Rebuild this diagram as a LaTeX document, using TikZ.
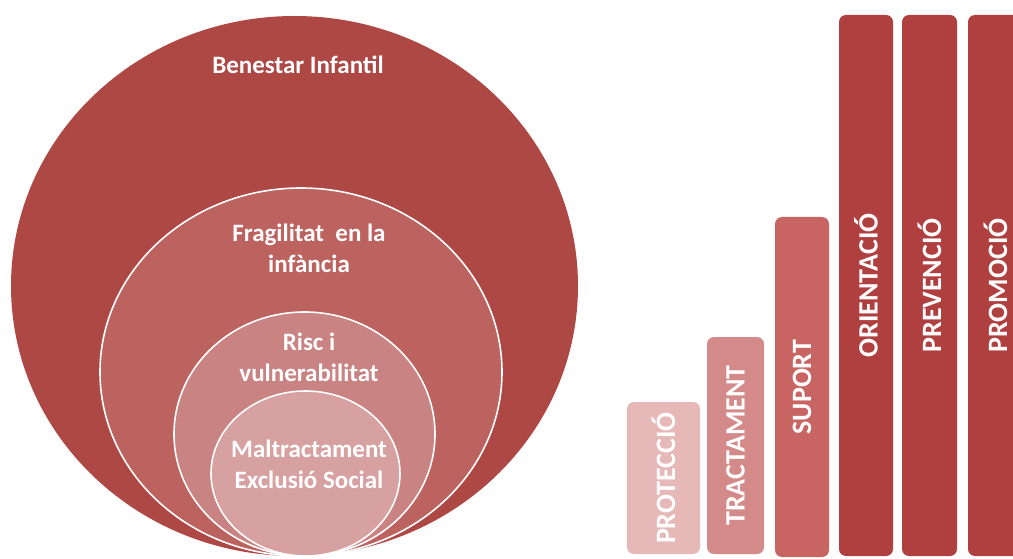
\documentclass[tikz,border=0pt]{standalone}
\usepackage{fontspec}
\setmainfont{Carlito}
\usetikzlibrary{shapes.geometric}
\definecolor{cOuter}{HTML}{AD4845}
\definecolor{cFrag}{HTML}{BC625F}
\definecolor{cRisc}{HTML}{C98382}
\definecolor{cMalt}{HTML}{D8A1A1}
\definecolor{cProt}{HTML}{E6B9B8}
\definecolor{cTract}{HTML}{D38A88}
\definecolor{cSup}{HTML}{C86562}
\definecolor{cTall}{HTML}{B0403F}
\tikzset{
  ring/.style={ellipse, inner sep=0pt, draw=white, line width=1.6pt},
  ctext/.style={text=white, font=\bfseries\fontsize{25}{31}\selectfont, align=center, inner sep=0pt},
  barbox/.style={rounded corners=7pt, inner sep=0pt, rotate=90, text=white,
    font=\bfseries\fontsize{28}{30}\selectfont}
}
\begin{document}
\begin{tikzpicture}[x=1pt,y=1pt]
\useasboundingbox (0,0) rectangle (1013,558);
\clip (0,0) rectangle (1013,558);
% nested circles
\node[ellipse, inner sep=0pt, fill=cOuter, minimum width=567pt, minimum height=540pt] (outer) at (294.5,272) {};
\node[ring, fill=cFrag, minimum width=402pt, minimum height=368pt] (frag) at (301,186) {};
\node[ring, fill=cRisc, minimum width=261pt, minimum height=244pt] (risc) at (304.5,124) {};
\node[ring, fill=cMalt, minimum width=189pt, minimum height=165pt] (malt) at (305.5,84.5) {};
% circle texts
\node[ctext] (tOuter) at (298,493) {Benestar Infantil};
\node[ctext] (tFrag) at (309,310) {Fragilitat\ \ en la\\inf\`ancia};
\node[ctext] (tRisc) at (309,200.5) {Risc i\\vulnerabilitat};
\node[ctext] (tMalt) at (309,93.5) {Maltractament\\Exclusi\'o Social};
% bars
\node[barbox, fill=cProt, minimum width=152pt, minimum height=73pt] (prot) at (663.5,80) {PROTECCIÓ};
\node[barbox, fill=cTract, minimum width=217pt, minimum height=57pt] (tract) at (735.5,112.5) {TRACTAMENT};
\node[barbox, fill=cSup, minimum width=340pt, minimum height=54pt] (sup) at (802,171) {SUPORT};
\node[barbox, fill=cTall, minimum width=541pt, minimum height=54pt] (orient) at (866,272.5) {ORIENTACIÓ};
\node[barbox, fill=cTall, minimum width=541pt, minimum height=55pt] (prev) at (929.5,272.5) {PREVENCIÓ};
\node[barbox, fill=cTall, minimum width=541pt, minimum height=55pt] (prom) at (995.5,272.5) {PROMOCIÓ};
\end{tikzpicture}
\end{document}
